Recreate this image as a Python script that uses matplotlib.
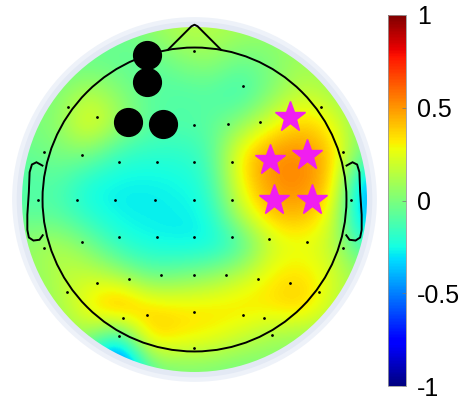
import numpy as np
import matplotlib
matplotlib.use("Agg")
from matplotlib import pyplot as plt
from matplotlib.patches import Circle, Polygon

plt.rcParams["font.family"] = ["Liberation Sans", "DejaVu Sans"]

# interpolated scalp map (rows top -> bottom, cells 0.2 head units)
map_rows = [
    [0.00, 0.00, 0.00, -0.05, 0.05, 0.14, 0.14, 0.10, 0.06, 0.05, 0.00, 0.00],
    [0.00, -0.05, -0.06, -0.06, -0.10, 0.00, 0.06, -0.06, 0.00, 0.10, 0.06, 0.05],
    [0.00, 0.00, 0.15, 0.03, -0.08, -0.12, -0.10, -0.18, 0.00, 0.18, 0.10, 0.00],
    [0.00, 0.03, 0.32, 0.10, -0.08, -0.10, -0.08, 0.03, 0.25, 0.40, 0.30, 0.00],
    [-0.06, 0.00, 0.00, -0.18, -0.20, -0.20, -0.15, 0.34, 0.52, 0.54, 0.42, -0.06],
    [-0.12, -0.10, -0.26, -0.28, -0.28, -0.26, -0.20, 0.30, 0.52, 0.55, 0.42, -0.45],
    [-0.08, -0.10, -0.22, -0.28, -0.28, -0.28, -0.26, 0.16, 0.42, 0.45, 0.28, -0.45],
    [0.06, 0.14, 0.00, -0.20, -0.26, -0.28, -0.28, -0.18, 0.18, 0.25, 0.18, -0.18],
    [0.02, 0.15, 0.20, 0.10, -0.06, -0.02, 0.04, 0.16, 0.32, 0.36, 0.24, 0.06],
    [0.00, 0.10, 0.32, 0.56, 0.36, 0.34, 0.34, 0.36, 0.34, 0.42, 0.20, 0.02],
    [0.00, 0.00, 0.12, -0.25, 0.42, 0.34, 0.30, 0.20, 0.10, 0.06, 0.03, 0.00],
    [0.00, 0.00, -0.35, -0.80, -0.06, 0.00, 0.00, -0.03, 0.00, 0.00, 0.00, 0.00],
]

# channel locations (head radius = 1)
ch_x = [0.00, 0.32, 0.83, -0.83, -0.64, 0.00, 0.22, 0.43, -0.99, -0.74, -0.50, -0.25,
        0.00, 0.25, 0.98, -1.03, -0.77, -0.52, -0.26, 0.00, 0.25, 1.03, -0.99, -0.74,
        -0.50, -0.25, 0.00, 0.25, 0.49, 0.74, 0.98, -0.84, -0.64, -0.43, -0.22, 0.00,
        0.21, 0.42, 0.63, 0.82, -0.47, -0.31, 0.00, 0.32, 0.46, -0.50, 0.00, 0.51]
ch_y = [0.98, 0.75, 0.61, 0.61, 0.54, 0.49, 0.50, 0.51, 0.31, 0.29, 0.25, 0.25,
        0.25, 0.25, 0.31, 0.00, 0.00, 0.00, 0.00, 0.00, 0.00, 0.00, -0.32, -0.28,
        -0.25, -0.25, -0.25, -0.25, -0.26, -0.28, -0.32, -0.61, -0.55, -0.52, -0.50, -0.50,
        -0.50, -0.52, -0.55, -0.61, -0.78, -0.76, -0.74, -0.76, -0.78, -0.90, -0.98, -0.89]

# highlighted channels
dot_x = [-0.31, -0.31, -0.44, -0.21]
dot_y = [0.95, 0.77, 0.51, 0.50]
star_x = [0.63, 0.50, 0.74, 0.52, 0.77]
star_y = [0.54, 0.26, 0.29, 0.00, 0.00]

cbar_ticks = [-1, -0.5, 0, 0.5, 1]
cbar_labels = ["-1", "-0.5", "0", "0.5", "1"]

fig = plt.figure(figsize=(4.67, 4.0), dpi=100)
ax = fig.add_axes([1.5 / 467, 7.5 / 400, 386 / 467, 386 / 400])
ax.set_xlim(-1.27, 1.27)
ax.set_ylim(-1.27, 1.27)
ax.set_aspect("equal")
ax.axis("off")

# pale rim around the map
ax.add_patch(Circle((0, 0), 1.2, facecolor="#eef2f9", edgecolor="none", zorder=0))
ax.add_patch(Circle((0, 0), 1.17, facecolor="#e3e9f4", edgecolor="none", zorder=0))

im = ax.imshow(np.array(map_rows), cmap="jet", vmin=-1, vmax=1,
               extent=[-1.2, 1.2, -1.2, 1.2], interpolation="bicubic", zorder=1)
im.set_clip_path(Circle((0, 0), 1.135, transform=ax.transData))

# head, nose, ears
ax.add_patch(Circle((0, 0), 1.0, fill=False, edgecolor="black", lw=1.4, zorder=3))
ax.plot([-0.175, -0.02, 0.0, 0.02, 0.175], [0.985, 1.14, 1.15, 1.14, 0.985],
        color="black", lw=1.4, zorder=3)
ear_x = [0.995, 1.04, 1.07, 1.085, 1.09, 1.10, 1.10, 1.09, 1.06, 1.02, 0.995]
ear_y = [0.22, 0.245, 0.23, 0.18, 0.05, -0.10, -0.20, -0.25, -0.27, -0.265, -0.23]
for s in (1, -1):
    ax.add_patch(Polygon(np.column_stack([np.multiply(ear_x, s), ear_y]),
                         closed=False, fill=False, edgecolor="black", lw=1.4, zorder=3))

ax.plot(ch_x, ch_y, "k.", markersize=2, zorder=4)
ax.plot(dot_x, dot_y, "o", color="black", markersize=20, zorder=5)
ax.plot(star_x, star_y, "*", color="#f01ef0", markersize=23, zorder=5)

cax = fig.add_axes([388 / 467, (400 - 386) / 400, 18 / 467, 371 / 400])
cb = fig.colorbar(im, cax=cax, ticks=cbar_ticks)
cb.ax.set_yticklabels(cbar_labels)
cb.outline.set_edgecolor("#999999")
cb.outline.set_linewidth(0.6)
cb.ax.tick_params(direction="in", length=3, width=0.5, color="#777777", labelsize=18, pad=8)

fig.savefig("out.png", dpi=100)
